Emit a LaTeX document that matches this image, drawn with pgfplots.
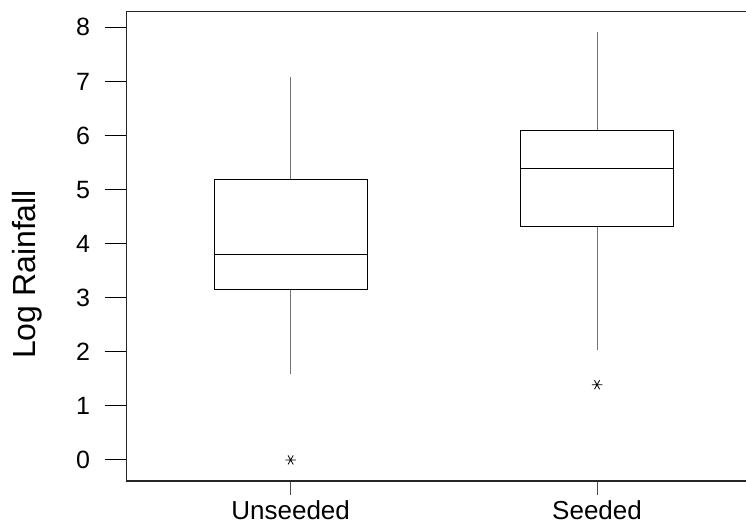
\documentclass[border=0pt]{standalone}
\usepackage{fontspec}
\setmainfont{Liberation Sans}
\usepackage{pgfplots}
\pgfplotsset{compat=1.18}
\usepgfplotslibrary{statistics}
\begin{document}
\begin{tikzpicture}
\begin{axis}[
  at={(0,0)}, anchor=south west,
  scale only axis, width=317.15pt, height=234.65pt,
  xmin=0.465, xmax=2.535, ymin=-0.39, ymax=8.29,
  axis line style={black!85, line width=0.6pt},
  xtick={1,2}, xticklabels={Unseeded,Seeded},
  ytick={0,1,2,3,4,5,6,7,8},
  xtick pos=lower, ytick pos=left,
  tick align=outside,
  ytick style={black, line width=0.5pt, /pgfplots/major tick length=10.85pt},
  xtick style={black!70, line width=0.5pt, /pgfplots/major tick length=7pt},
  /pgf/number format/assume math mode=true,
  yticklabel style={font=\fontsize{12.5}{14}\selectfont, xshift=-10.5pt},
  xticklabel style={font=\fontsize{13}{15}\selectfont, yshift=-2pt},
  ylabel={Log Rainfall},
  every axis y label/.style={at={(axis description cs:-0.143,0.44)}, rotate=90, anchor=base, font=\fontsize{16}{19}\selectfont},
  boxplot/draw direction=y,
  boxplot/box extend=0.5,
  boxplot/whisker extend=0,
  boxplot/every whisker/.style={black!55, line width=0.5pt},
  boxplot/every box/.style={black, line width=0.5pt},
  boxplot/every median/.style={black, line width=0.5pt},
  clip=false,
]
\addplot[black, boxplot prepared={draw position=1, lower whisker=1.59, lower quartile=3.16, median=3.79, upper quartile=5.18, upper whisker=7.09}] coordinates {};
\addplot[black, boxplot prepared={draw position=2, lower whisker=2.03, lower quartile=4.31, median=5.39, upper quartile=6.09, upper whisker=7.91}] coordinates {};
\addplot[only marks, mark=asterisk, mark size=2.6pt, mark options={rotate=90, black, line width=0.4pt}] coordinates {(1,0) (2,1.39)};
\end{axis}
\pgfresetboundingbox
\useasboundingbox (-63.35pt,-21.5pt) rectangle (309.65pt,240.5pt);
\end{tikzpicture}
\end{document}
